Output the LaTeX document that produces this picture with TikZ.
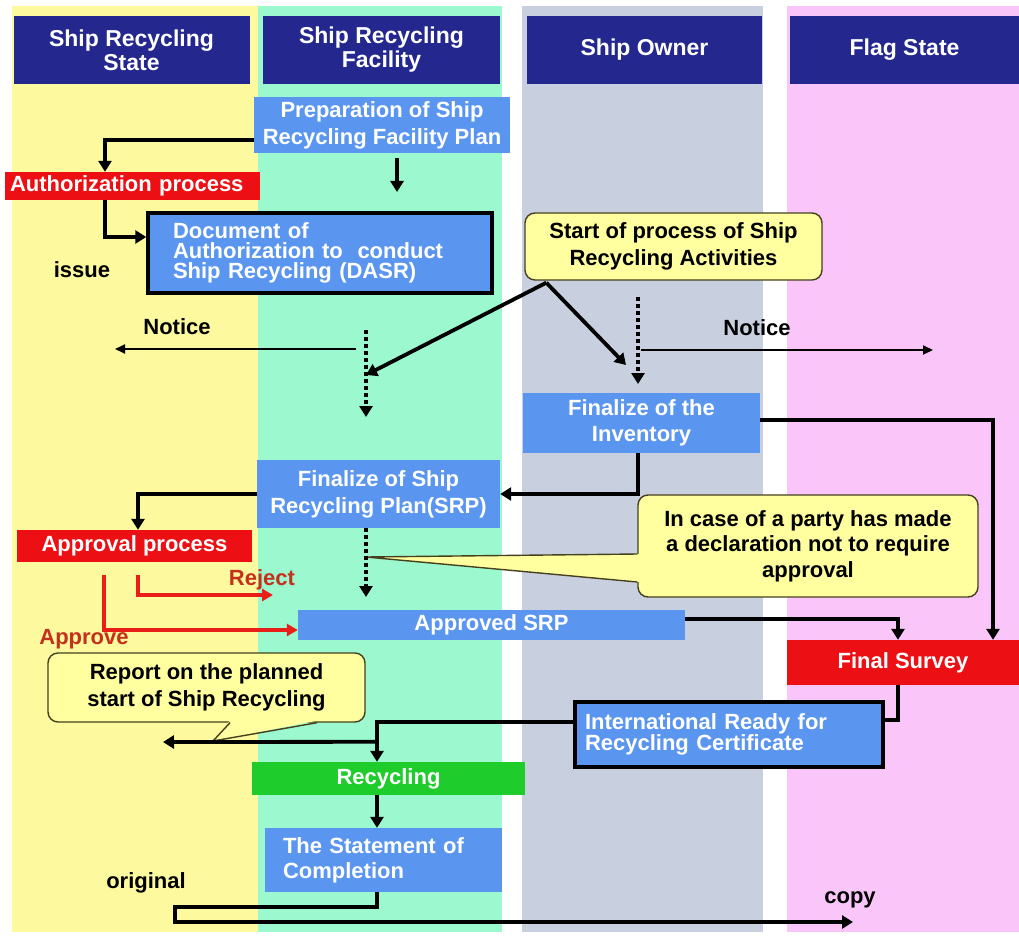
\documentclass[tikz,border=0pt]{standalone}
\usepackage{fontspec}
\setmainfont{Liberation Sans}
\usetikzlibrary{arrows.meta,calc}
\definecolor{navy}{RGB}{36,40,142}
\definecolor{laneyellow}{RGB}{252,249,158}
\definecolor{lanegreen}{RGB}{156,248,206}
\definecolor{lanegray}{RGB}{200,208,224}
\definecolor{lanepink}{RGB}{250,198,250}
\definecolor{boxblue}{RGB}{90,150,240}
\definecolor{boxred}{RGB}{236,16,20}
\definecolor{callyellow}{RGB}{255,255,160}
\definecolor{callborder}{RGB}{70,64,30}
\definecolor{recgreen}{RGB}{30,204,44}
\definecolor{arrowred}{RGB}{232,30,24}
\definecolor{labelred}{RGB}{196,48,28}
\begin{document}
\begin{tikzpicture}[x=1pt,y=-1pt,
  hdr/.style={fill=navy,text=white,font=\fontsize{23}{24}\selectfont\bfseries,inner sep=0,align=center,minimum height=68},
  bluebox/.style={fill=boxblue,text=white,font=\fontsize{22}{27}\selectfont\bfseries,inner sep=0,align=center},
  thickbox/.style={bluebox,draw=black,line width=3.5pt,font=\fontsize{22}{20}\selectfont\bfseries,align=left},
  redbox/.style={fill=boxred,text=white,font=\fontsize{22}{27}\selectfont\bfseries,inner sep=0,align=center},
  callbox/.style={fill=callyellow,draw=callborder,line width=1.4pt,rounded corners=10pt,font=\fontsize{22}{27}\selectfont\bfseries,inner sep=0,align=center},
  lbl/.style={font=\fontsize{22}{26}\selectfont\bfseries,inner sep=0},
  conn/.style={line width=3.8pt,-{Triangle[length=11pt,width=13pt]}},
  plainconn/.style={line width=3.8pt},
  dotconn/.style={line width=4pt,dash pattern=on 4pt off 3pt,-{Triangle[length=11pt,width=13pt]}},
  thinconn/.style={line width=1.8pt,-{Triangle[length=10pt,width=9pt]}},
  redconn/.style={arrowred,line width=3.3pt,-{Triangle[length=11pt,width=12pt]}}
]
\useasboundingbox (0,0) rectangle (1019,936);
\fill[white] (0,0) rectangle (1019,936);
% lanes
\fill[laneyellow] (12,6) rectangle (258,932);
\fill[lanegreen] (258,6) rectangle (502,932);
\fill[lanegray] (522,6) rectangle (763,932);
\fill[lanepink] (787,6) rectangle (1019,932);
% headers
\node[hdr,minimum width=236] (h1) at (131.5,50) {Ship Recycling\\State};
\node[hdr,minimum width=237] (h2) at (381.5,50) {Ship Recycling\\Facility};
\node[hdr,minimum width=235] (h3) at (644.5,50) {Ship Owner};
\node[hdr,minimum width=229] (h4) at (904.5,50) {Flag State};
% boxes
\node[bluebox,minimum width=256,minimum height=56] (prep) at (382,125) {Preparation of Ship\\Recycling Facility Plan};
\node[redbox,minimum height=28,text width=245,inner xsep=5,align=left] (auth) at (132.5,186) {Authorization process};
\node[thickbox,minimum height=80,text width=294,inner xsep=25] (dasr) at (320,253) {Document of\\Authorization to\ \ conduct\\Ship Recycling (DASR)};
\node[callbox,minimum width=297,minimum height=67] (startc) at (673.5,246.5) {Start of process of Ship\\Recycling Activities};
\node[bluebox,minimum width=237,minimum height=60,font=\fontsize{22}{26}\selectfont\bfseries] (inv) at (641.5,423) {Finalize of the\\Inventory};
\node[bluebox,minimum width=243,minimum height=68] (srp) at (378.5,494) {Finalize of Ship\\Recycling Plan(SRP)};
\node[redbox,minimum width=235,minimum height=32] (approval) at (134.5,546) {Approval process};
\node[callbox,minimum width=340,minimum height=102,font=\fontsize{22}{25.5}\selectfont\bfseries] (casec) at (808,546) {In case of a party has made\\a declaration not to require\\approval};
\node[bluebox,minimum width=387,minimum height=30] (appr) at (491.5,625) {Approved SRP};
\node[redbox,minimum width=232,minimum height=45] (final) at (903,662.5) {Final Survey};
\node[callbox,minimum width=317,minimum height=69] (reportc) at (206.5,687.5) {Report on the planned\\start of Ship Recycling};
\node[thickbox,minimum height=65,text width=288,inner xsep=10] (irrc) at (729,734.5) {International Ready for\\Recycling Certificate};
\node[fill=recgreen,text=white,font=\fontsize{22}{27}\selectfont\bfseries,inner sep=0,minimum width=273,minimum height=33] (rec) at (388.5,778.5) {Recycling};
\node[bluebox,minimum height=64,text width=201,inner xsep=18,align=left,font=\fontsize{22}{25}\selectfont\bfseries] (stmt) at (383.5,860) {The Statement of\\Completion};
% labels
\node[lbl] (issue) at (82,270) {issue};
\node[lbl] (notice1) at (177,327) {Notice};
\node[lbl] (notice2) at (757,328) {Notice};
\node[lbl,text=labelred] (reject) at (262,580) {Reject};
\node[lbl,text=labelred] (approve) at (84,639) {Approve};
\node[lbl] (original) at (146,883) {original};
\node[lbl] (copy) at (850,900) {copy};
% callout tails
\coordinate (casetip) at (366,557);
\fill[callyellow] ($(casec.west)+(2,8)$) -- (casetip) -- ($(casec.west)+(2,36)$) -- cycle;
\draw[callborder,line width=1.4pt] ($(casec.west)+(0,8)$) -- (casetip) -- ($(casec.west)+(0,36)$);
\coordinate (reptip) at (213,741);
\fill[callyellow] ($(reportc.south)+(23.5,-2)$) -- (reptip) -- ($(reportc.south)+(110.5,-2)$) -- cycle;
\draw[callborder,line width=1.4pt] ($(reportc.south)+(23.5,0)$) -- (reptip) -- ($(reportc.south)+(110.5,0)$);
% connectors
\draw[conn] ($(prep.west)+(0,15)$) -| ($(auth.north)+(-27.5,0)$);
\coordinate (pd) at (397,192);
\draw[conn] ($(prep.south -| pd)+(0,5)$) -- (pd);
\draw[conn] ($(auth.south)+(-27.5,0)$) |- ($(dasr.west)+(0,-16)$);
\coordinate (sp) at ($(startc.south west)+(22,2)$);
\coordinate (dl) at (366,375);
\coordinate (dr) at (626,365);
\draw[conn] (sp) -- (dl);
\draw[conn] (sp) -- (dr);
\coordinate (d1s) at (366,330);
\coordinate (d1e) at (366,417);
\draw[dotconn] (d1s) -- (d1e);
\coordinate (n1s) at (356,349);
\coordinate (n1e) at (115,349);
\draw[thinconn] (n1s) -- (n1e);
\coordinate (d2s) at (638,297);
\coordinate (d2e) at (638,384);
\draw[dotconn] (d2s) -- (d2e);
\coordinate (n2s) at (641,350);
\coordinate (n2e) at (933,350);
\draw[thinconn] (n2s) -- (n2e);
\draw[conn] ($(inv.south)+(-3.5,0)$) |- (srp.east);
\draw[conn] ($(inv.east)+(0,-3)$) -| ($(final.north)+(90,0)$);
\draw[conn] (srp.west) -| ($(approval.north)+(3.5,0)$);
\coordinate (d3e) at (366,597);
\draw[dotconn] (srp.south -| d3e) -- (d3e);
\coordinate (rj) at (273,595);
\draw[redconn] ($(approval.south)+(3.5,13)$) |- (rj);
\draw[redconn] ($(approval.south)+(-30.5,13)$) |- ($(appr.west)+(0,5)$);
\draw[conn] ($(appr.east)+(0,-6)$) -| ($(final.north)+(-5,0)$);
\draw[plainconn] ($(final.south)+(-5,0)$) |- ($(irrc.east)+(0,-14.5)$);
\draw[conn] ($(irrc.west)+(0,-12.5)$) -| ($(rec.north)+(-11.5,0)$);
\coordinate (rp) at (163,742);
\draw[conn] ($(rec.north)+(-11.5,-20)$) -- (rp);
\coordinate (ra) at ($(rec.south)+(-11.5,0)$);
\draw[conn] (ra) -- (ra |- stmt.north);
\coordinate (sb) at ($(stmt.south)+(-6.5,0)$);
\coordinate (oc) at (175,907);
\coordinate (cp) at (853,922);
\draw[conn] (sb) |- (oc) |- (cp);
\end{tikzpicture}
\end{document}
